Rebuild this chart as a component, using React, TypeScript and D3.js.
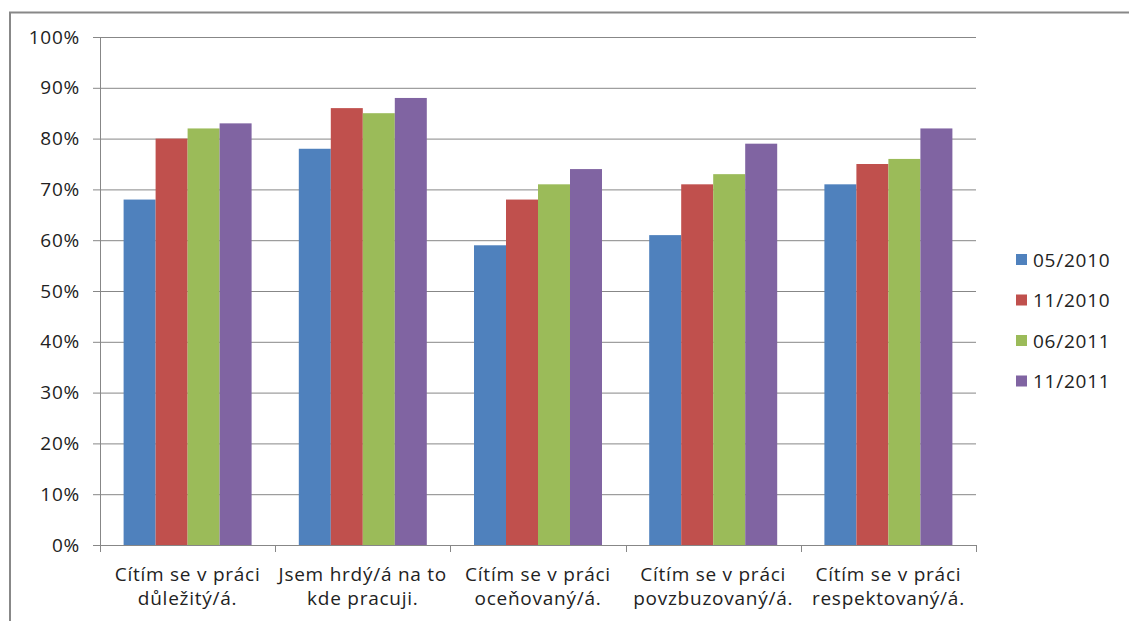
import React from "react";
import * as d3 from "d3";

const categories: string[][] = [
  ["Cítím se v práci", "důležitý/á."],
  ["Jsem hrdý/á na to", "kde pracuji."],
  ["Cítím se v práci", "oceňovaný/á."],
  ["Cítím se v práci", "povzbuzovaný/á."],
  ["Cítím se v práci", "respektovaný/á."],
];
const seriesNames = ["05/2010", "11/2010", "06/2011", "11/2011"];
const seriesColors = ["#4F81BD", "#C0504D", "#9BBB59", "#8064A2"];
const s0510 = [68, 78, 59, 61, 71];
const s1110 = [80, 86, 68, 71, 75];
const s0611 = [82, 85, 71, 73, 76];
const s1111 = [83, 88, 74, 79, 82];
const seriesValues = [s0510, s1110, s0611, s1111];
const yTicks = [0, 10, 20, 30, 40, 50, 60, 70, 80, 90, 100];

const W = 1129;
const H = 621;
const FONT = "'Open Sans', Lato, sans-serif";

export default function App() {
  const left = 100, right = 976, top = 37, bottom = 545;
  const x0 = d3.scaleBand<number>().domain(d3.range(categories.length)).range([left, right]).paddingInner(0).paddingOuter(0);
  const bw = x0.bandwidth();
  const inner = 128 / 175.2;
  const x1 = d3.scaleBand<number>().domain(d3.range(seriesNames.length)).range([0, bw * inner]);
  const y = d3.scaleLinear().domain([0, 100]).range([bottom, top]);
  const grid = "#878787";
  const fs = 19;
  const ls = 0.75;
  return (
    <svg width={W} height={H} style={{ position: "absolute", left: 0, top: 0, display: "block" }} fontFamily={FONT}>
      <rect x={0} y={0} width={W} height={H} fill="#fff" />
      <rect x={10} y={12.5} width={W + 10} height={H + 10} fill="none" stroke="#888" strokeWidth={2} />
      {yTicks.map((t) => (
        <g key={t}>
          <line x1={left - 7} x2={right} y1={y(t) + 0.5} y2={y(t) + 0.5} stroke={grid} strokeWidth={1} />
          <text x={80} y={y(t)} dy="0.35em" textAnchor="end" fontSize={fs} letterSpacing={ls} fill="#222">{t}%</text>
        </g>
      ))}
      {seriesValues.map((vals, si) =>
        vals.map((v, ci) => (
          <rect
            key={`${si}-${ci}`}
            x={(x0(ci) as number) + (bw * (1 - inner)) / 2 + (x1(si) as number)}
            y={y(v)}
            width={x1.bandwidth()}
            height={bottom - y(v)}
            fill={seriesColors[si]}
          />
        ))
      )}
      <line x1={left + 0.5} x2={left + 0.5} y1={top} y2={bottom} stroke={grid} />
      <line x1={left} x2={right} y1={bottom + 0.5} y2={bottom + 0.5} stroke={grid} />
      {d3.range(categories.length + 1).map((i) => {
        const xx = Math.round(left + i * bw) + 0.5;
        return <line key={i} x1={xx} x2={xx} y1={bottom} y2={bottom + 7} stroke={grid} />;
      })}
      {categories.map((lines, ci) => (
        <text key={ci} x={(x0(ci) as number) + bw / 2} textAnchor="middle" fontSize={fs} letterSpacing={ls} fill="#222">
          {lines.map((l, li) => (
            <tspan key={li} x={(x0(ci) as number) + bw / 2} y={581 + li * 24}>{l}</tspan>
          ))}
        </text>
      ))}
      {seriesNames.map((n, i) => (
        <g key={n}>
          <rect x={1016} y={254 + i * 40.5} width={11} height={11} fill={seriesColors[i]} />
          <text x={1033} y={260 + i * 40.5} dy="0.35em" fontSize={fs} letterSpacing={ls} fill="#222">{n}</text>
        </g>
      ))}
    </svg>
  );
}
